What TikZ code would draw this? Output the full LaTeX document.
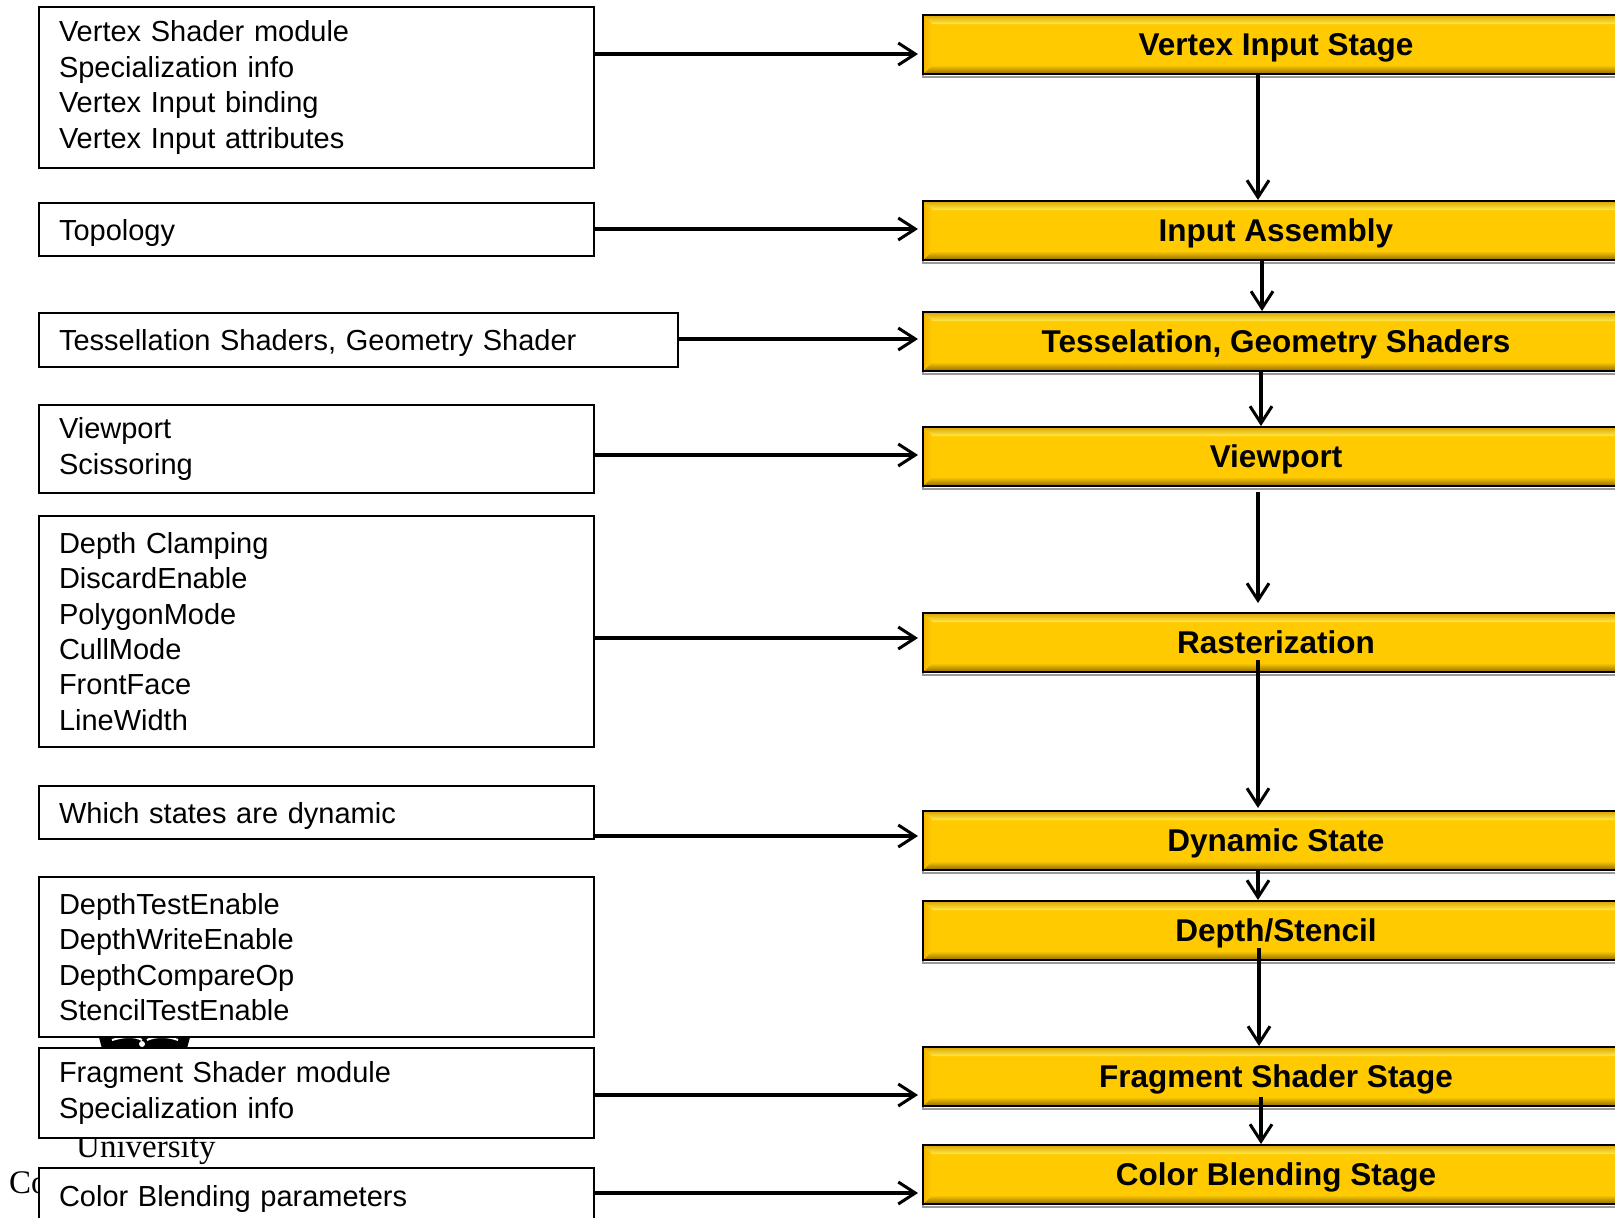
\documentclass[tikz,border=0pt]{standalone}
\usepackage{fontspec}
\setmainfont{Liberation Sans}
\newfontfamily\logoserif{Liberation Serif}
\usetikzlibrary{arrows.meta}
\definecolor{ymain}{HTML}{FFCB00}
\definecolor{ylight}{HTML}{FFEA4A}
\definecolor{ydark}{HTML}{DDA400}
\definecolor{ybrown}{HTML}{8E6A00}
\definecolor{yleft}{HTML}{F2B500}
\tikzset{
  lbox/.style={draw=black, line width=2, fill=white, anchor=north west,
    align=left, text width=515, inner xsep=20, inner ysep=0,
    font=\fontsize{29}{35.4}\selectfont},
  oneline/.style={text height=21, text depth=0},
  ybox/.style={draw=black, line width=2, fill=ymain, anchor=north west,
    minimum width=706, minimum height=59, inner sep=0,
    text height=22, text depth=0,
    font=\bfseries\fontsize{31.5}{37}\selectfont,
    preaction={draw=black!40, line width=2, transform canvas={yshift=-2.5}},
    path picture={
      \coordinate (pNW) at (path picture bounding box.north west);
      \coordinate (pNE) at (path picture bounding box.north east);
      \coordinate (pSW) at (path picture bounding box.south west);
      \coordinate (pSE) at (path picture bounding box.south east);
      \shade[top color=ydark, bottom color=ylight] (pNW) -- (pNE) -- ([shift={(-9,-9)}]pNE) -- ([shift={(9,-9)}]pNW) -- cycle;
      \shade[top color=ymain, bottom color=ybrown] ([shift={(9,9)}]pSW) -- ([shift={(-9,9)}]pSE) -- (pSE) -- (pSW) -- cycle;
      \shade[left color=yleft, right color=ymain] (pNW) -- ([shift={(9,-9)}]pNW) -- ([shift={(9,9)}]pSW) -- (pSW) -- cycle;
    }},
  arr/.style={line width=3.2, -{Straight Barb[length=17, width=22, line width=3]}},
}
\begin{document}
\begin{tikzpicture}[x=1pt, y=1pt]
\useasboundingbox (0,0) rectangle (1615,-1218);

% logo remnants behind the boxes
\fill[black] (97,-1030) -- (192,-1030) -- (186,-1052) -- (103,-1052) -- cycle;
\draw[white, line width=2] (112,-1040) .. controls (125,-1036) and (135,-1036) .. (142,-1040);
\draw[white, line width=2] (147,-1040) .. controls (155,-1036) and (168,-1036) .. (178,-1040);
\fill[white] (142,-1044) circle (3);
\node[anchor=base west, inner sep=0, font=\logoserif\fontsize{33}{38}\selectfont] (uni) at (76,-1157) {University};
\node[anchor=base west, inner sep=0, font=\logoserif\fontsize{33}{38}\selectfont] (col) at (9,-1193) {Co};

% left boxes
\node[lbox, minimum height=161] (b1) at (38,-6) {Vertex Shader module\\Specialization info\\Vertex Input binding\\Vertex Input attributes};
\node[lbox, oneline, minimum height=53] (b2) at (38,-202) {Topology};
\node[lbox, oneline, minimum height=54, text width=599] (b3) at (38,-312) {Tessellation Shaders, Geometry Shader};
\node[lbox, minimum height=88] (b4) at (38,-404) {Viewport\\Scissoring};
\node[lbox, minimum height=231] (b5) at (38,-515) {Depth Clamping\\DiscardEnable\\PolygonMode\\CullMode\\FrontFace\\LineWidth};
\node[lbox, oneline, minimum height=53] (b6) at (38,-785) {Which states are dynamic};
\node[lbox, minimum height=160] (b7) at (38,-876) {DepthTestEnable\\DepthWriteEnable\\DepthCompareOp\\StencilTestEnable};
\node[lbox, minimum height=90] (b8) at (38,-1047) {Fragment Shader module\\Specialization info};
\node[lbox, oneline, minimum height=56] (b9) at (38,-1167) {Color Blending parameters};

% yellow stage boxes
\node[ybox] (y1) at (922,-14) {Vertex Input Stage};
\node[ybox] (y2) at (922,-200) {Input Assembly};
\node[ybox] (y3) at (922,-311) {Tesselation, Geometry Shaders};
\node[ybox] (y4) at (922,-426) {Viewport};
\node[ybox] (y5) at (922,-612) {Rasterization};
\node[ybox] (y6) at (922,-810) {Dynamic State};
\node[ybox] (y7) at (922,-900) {Depth/Stencil};
\node[ybox] (y8) at (922,-1046) {Fragment Shader Stage};
\node[ybox] (y9) at (922,-1144) {Color Blending Stage};

% horizontal arrow heights
\coordinate (h1) at (0,-54);
\coordinate (h2) at (0,-229);
\coordinate (h3) at (0,-339);
\coordinate (h4) at (0,-455);
\coordinate (h5) at (0,-638);
\coordinate (h6) at (0,-836);
\coordinate (h8) at (0,-1095);
\coordinate (h9) at (0,-1193);
\draw[arr, shorten >=4] (b1.east |- h1) -- (y1.west |- h1);
\draw[arr, shorten >=4] (b2.east |- h2) -- (y2.west |- h2);
\draw[arr, shorten >=4] (b3.east |- h3) -- (y3.west |- h3);
\draw[arr, shorten >=4] (b4.east |- h4) -- (y4.west |- h4);
\draw[arr, shorten >=4] (b5.east |- h5) -- (y5.west |- h5);
\draw[arr, shorten >=4] (b6.east |- h6) -- (y6.west |- h6);
\draw[arr, shorten >=4] (b8.east |- h8) -- (y8.west |- h8);
\draw[arr, shorten >=4] (b9.east |- h9) -- (y9.west |- h9);

% vertical arrows
\coordinate (c1) at (1258,0);
\coordinate (c2) at (1262,0);
\coordinate (c3) at (1261,0);
\coordinate (s4) at (1258,-492);
\coordinate (s5) at (1258,-660);
\coordinate (s7) at (1259,-948);
\coordinate (s8) at (1261,-1097);
\draw[arr] (y1.south -| c1) -- (y2.north -| c1);
\draw[arr] (y2.south -| c2) -- (y3.north -| c2);
\draw[arr] (y3.south -| c3) -- (y4.north -| c3);
\draw[arr, shorten >=9] (s4) -- (y5.north -| s4);
\draw[arr, shorten >=2] (s5) -- (y6.north -| s5);
\draw[arr] (y6.south -| c1) -- (y7.north -| c1);
\draw[arr] (s7) -- (y8.north -| s7);
\draw[arr] (s8) -- (y9.north -| s8);
\end{tikzpicture}
\end{document}
